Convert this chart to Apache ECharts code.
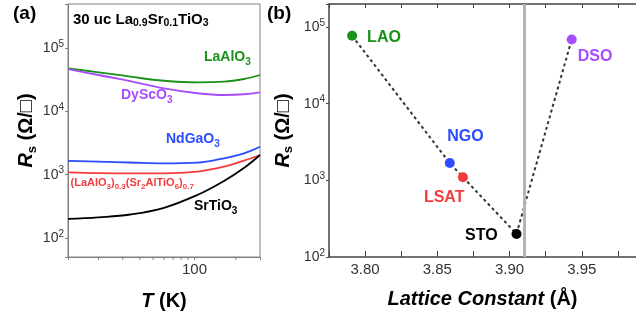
<!DOCTYPE html>
<html><head><meta charset="utf-8">
<script src="https://cdn.jsdelivr.net/npm/echarts@6/dist/echarts.min.js"></script>
<style>html,body{margin:0;padding:0;background:#fff}#c{width:636px;height:320px}</style>
</head><body><div id="c"></div>
<script>
// ---------- Panel (a): Rs vs T ----------
const tempK      = [12, 20, 34, 60, 105, 164, 229, 300];
const rsLaAlO3   = [48100, 41600, 35500, 30600, 28900, 29600, 32600, 37700];
const rsDyScO3   = [46900, 37700, 30300, 23200, 19400, 18200, 18700, 20100];
const rsNdGaO3   = [1650, 1610, 1560, 1510, 1550, 1820, 2180, 2770];
const rsLSAT     = [1090, 1060, 1050, 1050, 1120, 1340, 1670, 2050];
const rsSrTiO3   = [200, 212, 235, 300, 478, 796, 1276, 2050];
const xMinorTicksA = [20, 30, 40, 50, 60, 70, 80, 90, 200];
const aXRange = [12, 300];
const aYRange = [50, 500000];

// ---------- Panel (b): Rs vs lattice constant ----------
const substrates   = ['LAO', 'NGO', 'LSAT', 'STO', 'DSO'];
const latticeConst = [3.791, 3.8586, 3.8677, 3.9048, 3.943];
const rsAtLowT     = [77000, 1680, 1100, 200, 69000];
const filmLattice  = 3.91;
const bXRange = [3.775, 3.9875];
const bXStep  = 0.025;
const bYRange = [100, 200000];

// ---------- styles ----------
const FF = 'Liberation Sans, Arial, Helvetica, sans-serif';
const C = {green:'#1a921a', purple:'#a64dff', blue:'#2a4dff', red:'#f53c3c', black:'#000000'};
const subColor = {LAO:C.green, NGO:C.blue, LSAT:C.red, STO:C.black, DSO:C.purple};
const labelPos = {LAO:[20,6.5], NGO:[2.5,-21], LSAT:[-34,25.5], STO:[-46.5,6.7], DSO:[11,22.5]};

function isPow10(v){const l=Math.log10(v);return Math.abs(l-Math.round(l))<1e-6;}
function powLabel(v){return isPow10(v)?'10{s|'+Math.round(Math.log10(v))+'}':'';}
const yLabelStyle = {fontSize:14, color:'#333', fontFamily:FF, lineHeight:18, margin:4,
  formatter: powLabel, rich:{s:{fontSize:10, lineHeight:10, verticalAlign:'top', color:'#333', fontFamily:FF}}};
const rsName = '{i|R}{s|s} (Ω/□)';
const rsNameStyle = {fontSize:20, fontWeight:'bold', color:'#000', fontFamily:FF, lineHeight:24,
  rich:{i:{fontSize:20, fontWeight:'bold', fontStyle:'italic', color:'#000', fontFamily:FF, lineHeight:24},
        s:{fontSize:13, fontWeight:'bold', color:'#000', fontFamily:FF, lineHeight:13, verticalAlign:'bottom'}}};

function txt(x, y, text, color, size, sub, lh){
  return {type:'text', x:x, y:y, z:100, style:{text:text, fill:color, fontSize:size, fontWeight:'bold',
    fontFamily:FF, lineHeight:lh, align:'left', verticalAlign:'middle',
    rich:{s:{fontSize:sub, fontWeight:'bold', fill:color, fontFamily:FF, lineHeight:sub, verticalAlign:'bottom'}}}};
}

const lineA = (name, vals, color) => ({type:'line', name:name, xAxisIndex:0, yAxisIndex:0,
  data: tempK.map((t,i)=>[t, vals[i]]), showSymbol:false, symbol:'none', smooth:0.4,
  lineStyle:{color:color, width:1.8}, silent:true, z:3});

const chart = echarts.init(document.getElementById('c'), null, {renderer:'canvas'});
chart.setOption({
  animation:false,
  backgroundColor:'#fff',
  grid:[
    {left:68, top:4, width:192, height:253, show:true, borderColor:'#808080', borderWidth:1, backgroundColor:'transparent'},
    {left:329, top:4, width:336, height:253}
  ],
  xAxis:[
    {type:'log', gridIndex:0, min:aXRange[0], max:aXRange[1],
     axisLine:{lineStyle:{color:'#808080', width:1}}, splitLine:{show:false},
     axisTick:{show:true, inside:false, length:3, lineStyle:{color:'#808080'}},
     axisLabel:{fontSize:15, color:'#333', fontFamily:FF, margin:5,
       formatter:v=>isPow10(v)?String(Math.round(v)):''},
     name:'{i|T} (K)', nameLocation:'middle', nameGap:32,
     nameTextStyle:{fontSize:20, fontWeight:'bold', color:'#000', fontFamily:FF, lineHeight:24,
       rich:{i:{fontSize:20, fontWeight:'bold', fontStyle:'italic', color:'#000', fontFamily:FF, lineHeight:24}}}},
    {type:'value', gridIndex:1, min:bXRange[0], max:bXRange[1], interval:bXStep,
     axisLine:{lineStyle:{color:'#444', width:1.5}}, splitLine:{show:false},
     axisTick:{show:true, inside:true, length:6, lineStyle:{color:'#444', width:1}},
     axisLabel:{fontSize:15, color:'#333', fontFamily:FF, margin:5, showMaxLabel:false,
       formatter:v=>Math.abs(v*20-Math.round(v*20))<1e-6?v.toFixed(2):''},
     name:'{i|Lattice Constant} (Å)', nameLocation:'middle', nameGap:30,
     nameTextStyle:{fontSize:20, fontWeight:'bold', color:'#000', fontFamily:FF, lineHeight:24,
       rich:{i:{fontSize:20, fontWeight:'bold', fontStyle:'italic', color:'#000', fontFamily:FF, lineHeight:24}}}},
    {type:'value', gridIndex:1, position:'top', min:bXRange[0], max:bXRange[1], interval:bXStep,
     axisLine:{lineStyle:{color:'#444', width:1.5}}, splitLine:{show:false},
     axisTick:{show:true, inside:true, length:4, lineStyle:{color:'#444', width:1}},
     axisLabel:{show:false}}
  ],
  yAxis:[
    {type:'log', gridIndex:0, min:aYRange[0], max:aYRange[1],
     axisLine:{lineStyle:{color:'#808080', width:1}}, splitLine:{show:false},
     axisTick:{show:true, inside:false, length:3, lineStyle:{color:'#808080'}},
     axisLabel:yLabelStyle, name:rsName, nameLocation:'middle', nameRotate:90, nameGap:29,
     nameTextStyle:rsNameStyle},
    {type:'log', gridIndex:1, min:bYRange[0], max:bYRange[1],
     axisLine:{lineStyle:{color:'#444', width:1.5}}, splitLine:{show:false},
     axisTick:{show:true, inside:false, length:3, lineStyle:{color:'#444'}},
     axisLabel:yLabelStyle, name:rsName, nameLocation:'middle', nameRotate:90, nameGap:34,
     nameTextStyle:rsNameStyle}
  ],
  series:[
    lineA('LaAlO3', rsLaAlO3, C.green),
    lineA('DyScO3', rsDyScO3, C.purple),
    lineA('NdGaO3', rsNdGaO3, C.blue),
    lineA('LSAT', rsLSAT, C.red),
    lineA('SrTiO3', rsSrTiO3, C.black),
    {type:'custom', xAxisIndex:0, yAxisIndex:0, silent:true, clip:false, z:5,
     data: xMinorTicksA.map(v=>[v, aYRange[0]]),
     renderItem:(params, api)=>{
       const p = api.coord([api.value(0), api.value(1)]);
       return {type:'line', shape:{x1:p[0], y1:p[1], x2:p[0], y2:p[1]+3}, style:{stroke:'#808080', lineWidth:1}};
     }},
    {type:'line', xAxisIndex:1, yAxisIndex:1, data:[], silent:true, z:1,
     markLine:{silent:true, symbol:['none','none'], label:{show:false},
       lineStyle:{color:'#b4b4b4', width:3, type:'solid'}, data:[{xAxis:filmLattice}]}},
    {type:'line', xAxisIndex:1, yAxisIndex:1, silent:true, z:2, symbol:'none', showSymbol:false,
     data: latticeConst.map((x,i)=>[x, rsAtLowT[i]]),
     lineStyle:{color:'#333', width:2, type:[3,3]}},
    {type:'scatter', xAxisIndex:1, yAxisIndex:1, symbolSize:10, z:4, silent:true,
     data: substrates.map((n,i)=>({name:n, value:[latticeConst[i], rsAtLowT[i]],
       itemStyle:{color:subColor[n], opacity:1},
       label:{show:true, formatter:'{b}', position:labelPos[n], align:'left', verticalAlign:'middle',
         color:subColor[n], fontSize:16, fontWeight:'bold', fontFamily:FF}}))}
  ],
  graphic:[
    txt(13, 14, '(a)', '#000', 19, 12, 22),
    txt(267, 14, '(b)', '#000', 19, 12, 22),
    txt(73, 20, '30 uc La{s|0.9}Sr{s|0.1}TiO{s|3}', '#000', 15, 10.5, 18),
    txt(204, 57, 'LaAlO{s|3}', C.green, 14, 10, 20),
    txt(121, 95, 'DyScO{s|3}', C.purple, 14, 10, 20),
    txt(166, 139, 'NdGaO{s|3}', C.blue, 14, 10, 20),
    txt(70.5, 182.5, '(LaAlO{s|3}){s|0.3}(Sr{s|2}AlTiO{s|6}){s|0.7}', C.red, 11, 8, 16),
    txt(194, 206, 'SrTiO{s|3}', C.black, 14, 10, 20)
  ]
});
</script></body></html>
